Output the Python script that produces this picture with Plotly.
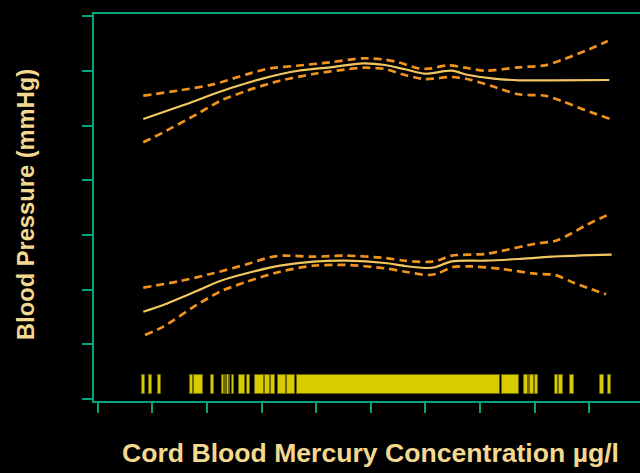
import plotly.graph_objects as go

# Cord blood mercury (µg/l) against child blood pressure (mmHg):
# smoothed fits with pointwise confidence bands, plus a rug of observations.

# Systolic pressure: fitted curve
sys_x = [8.35, 15.07, 24.23, 30.33, 36.45, 42.55, 48.64, 52.62, 56.28, 59.95,
         64.84, 67.88, 72.16, 77.03, 83.15, 93.70]
sys_fit = [91.19, 93.51, 96.80, 98.63, 99.97, 100.64, 101.37, 101.06, 100.28, 99.47,
           100.02, 99.23, 98.63, 98.27, 98.27, 98.32]

# Systolic pressure: upper confidence limit
sys_up_x = [8.35, 15.07, 21.17, 27.29, 31.56, 36.45, 42.55, 48.64, 52.62, 55.05,
            58.72, 60.55, 64.21, 67.27, 70.93, 77.03, 81.92, 84.98, 89.25, 93.41]
sys_up = [95.45, 96.44, 97.53, 99.36, 100.46, 100.93, 101.56, 102.29, 102.05, 101.56,
          100.46, 100.39, 101.01, 100.57, 100.02, 100.64, 101.01, 101.98, 103.62, 105.45]

# Systolic pressure: lower confidence limit
sys_lo_x = [8.35, 12.01, 18.13, 22.40, 27.29, 33.39, 39.49, 45.60, 48.64, 52.62,
            56.28, 59.95, 64.84, 67.88, 72.16, 77.03, 81.92, 84.98, 89.25, 93.70]
sys_lo = [86.93, 88.76, 92.05, 94.48, 96.36, 98.19, 99.42, 100.28, 100.57, 100.33,
          99.23, 98.50, 98.87, 98.45, 97.22, 95.71, 95.45, 94.48, 92.83, 91.25]

# Diastolic pressure: fitted curve
dia_x = [8.35, 12.01, 18.13, 22.40, 27.29, 33.39, 39.49, 45.60, 52.62, 56.28,
         60.55, 61.78, 64.84, 70.93, 77.03, 83.15, 94.14]
dia_fit = [55.96, 57.19, 59.74, 61.57, 62.98, 64.37, 65.10, 65.28, 64.86, 64.32,
           63.95, 64.08, 65.17, 65.28, 65.59, 66.02, 66.38]

# Diastolic pressure: upper confidence limit
dia_up_x = [8.35, 15.07, 21.17, 27.29, 31.56, 33.99, 39.49, 45.60, 52.62, 56.28,
            60.55, 62.38, 64.84, 70.93, 73.99, 80.09, 83.75, 86.81, 89.25, 93.88]
dia_up = [60.35, 61.57, 62.98, 64.63, 65.91, 66.20, 66.02, 66.20, 65.78, 65.28,
          65.05, 65.36, 66.20, 66.51, 67.06, 68.39, 68.89, 70.29, 71.68, 73.88]

# Diastolic pressure: lower confidence limit
dia_lo_x = [8.66, 12.01, 18.13, 22.40, 27.29, 33.39, 39.49, 45.60, 52.62, 56.28,
            60.55, 62.38, 64.84, 67.88, 73.99, 80.09, 83.75, 87.42, 93.10]
dia_lo = [51.70, 53.22, 57.19, 59.62, 61.44, 63.27, 64.37, 64.50, 63.89, 63.27,
          62.67, 62.98, 64.08, 64.26, 63.77, 62.91, 62.67, 61.15, 59.14]

# Rug of observed mercury concentrations (runs of ticks, start/end in µg/l)
rug_start = [8.06, 9.40, 11.10, 16.90, 17.55, 20.75, 22.77, 23.19, 23.45, 23.74,
             24.06, 24.54, 25.93, 27.40, 28.75, 30.64, 31.74, 33.02, 34.62, 36.50,
             74.05, 78.02, 78.94, 79.25, 80.00, 83.75, 84.40, 86.56, 92.00, 93.41]
rug_end = [8.66, 9.95, 11.65, 17.45, 19.34, 21.36, 23.04, 23.37, 23.63, 23.99,
           24.24, 24.97, 27.03, 27.84, 30.46, 31.56, 32.47, 34.49, 36.14, 73.68,
           77.22, 78.86, 79.17, 79.92, 80.64, 84.30, 85.16, 87.29, 92.67, 94.01]

x_ticks = [0, 10, 20, 30, 40, 50, 60, 70, 80, 90]
y_ticks = [40, 50, 60, 70, 80, 90, 100, 110]

AXIS = "#00a57c"
FIT = "#f2c760"
BAND = "#f0921e"
RUG = "#d8cb00"
TITLE = "#f3d890"
FONT = "Liberation Sans, Arial, sans-serif"

fig = go.Figure()

# rug band
RUG_BASE, RUG_TOP = 40.86, 44.39
fig.add_trace(go.Bar(
    x=[(a + b) / 2 for a, b in zip(rug_start, rug_end)],
    width=[b - a for a, b in zip(rug_start, rug_end)],
    y=[RUG_TOP - RUG_BASE] * len(rug_start),
    base=RUG_BASE,
    marker=dict(color=RUG, line=dict(color="#6e6800", width=1)),
    hoverinfo="skip",
))

for xs, ys in [(sys_up_x, sys_up), (sys_lo_x, sys_lo),
               (dia_up_x, dia_up), (dia_lo_x, dia_lo)]:
    fig.add_trace(go.Scatter(
        x=xs, y=ys, mode="lines",
        line=dict(color=BAND, width=2.7, dash="8px,5px", shape="spline", smoothing=0.8),
    ))

for xs, ys in [(sys_x, sys_fit), (dia_x, dia_fit)]:
    fig.add_trace(go.Scatter(
        x=xs, y=ys, mode="lines",
        line=dict(color=FIT, width=2.2, shape="spline", smoothing=0.8),
    ))

L, R, T, B = 94, 0, 14, 72
W, H = 640, 473
pw, ph = W - L - R, H - T - B

fig.update_layout(
    width=W, height=H,
    margin=dict(l=L, r=R, t=T, b=B, pad=0),
    paper_bgcolor="black", plot_bgcolor="black",
    showlegend=False, barmode="overlay", bargap=0,
    xaxis=dict(range=[-0.68, 99.32], tickvals=x_ticks, showticklabels=False,
               showgrid=False, zeroline=False, showline=True, linecolor=AXIS,
               linewidth=2, mirror=True, ticks="outside", ticklen=10,
               tickwidth=2, tickcolor=AXIS),
    yaxis=dict(range=[39.63, 110.39], tickvals=y_ticks, showticklabels=False,
               showgrid=False, zeroline=False, showline=True, linecolor=AXIS,
               linewidth=2, ticks="outside", ticklen=10, tickwidth=2,
               tickcolor=AXIS),
    annotations=[
        dict(text="<b>Cord Blood Mercury Concentration µg/l</b>",
             xref="paper", yref="paper",
             x=(370 - L) / pw, y=(H - B - 453) / ph,
             xanchor="center", yanchor="middle", showarrow=False,
             font=dict(family=FONT, size=26.6, color=TITLE)),
        dict(text="<b>Blood Pressure (mmHg)</b>",
             xref="paper", yref="paper",
             x=(26 - L) / pw, y=(H - B - 205) / ph,
             xanchor="center", yanchor="middle", textangle=-90, showarrow=False,
             font=dict(family=FONT, size=23.7, color=TITLE)),
    ],
)

fig.write_html("out.html")
